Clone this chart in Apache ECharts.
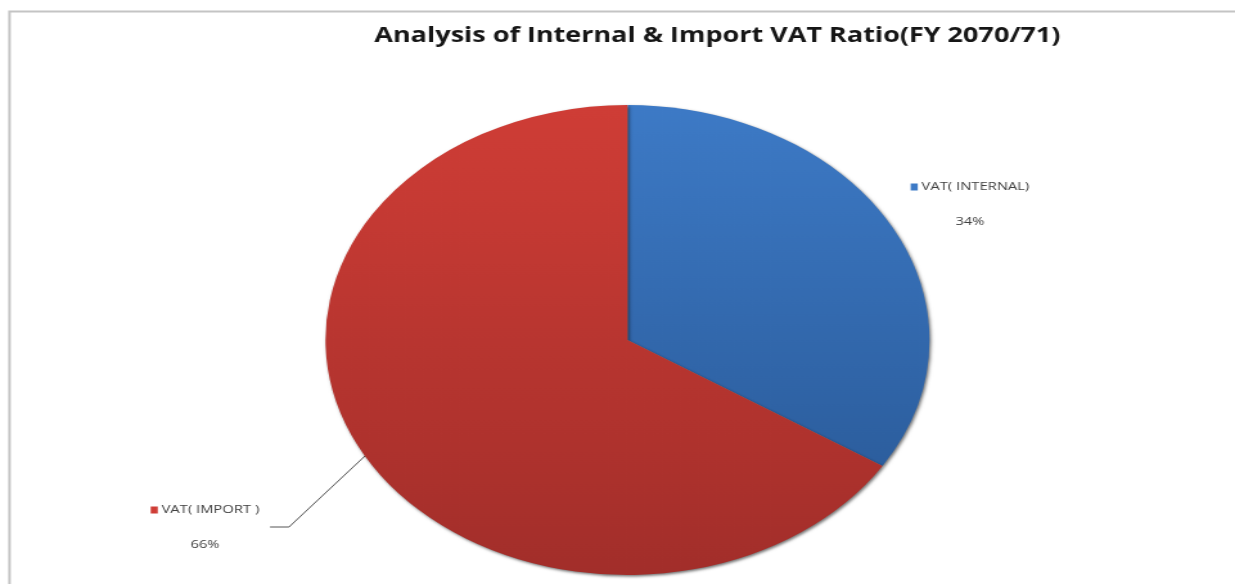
<!DOCTYPE html>
<html>
<head>
<meta charset="utf-8">
<script src="https://cdn.jsdelivr.net/npm/echarts@6/dist/echarts.min.js"></script>
<style>
  html, body { margin: 0; padding: 0; background: #fff; }
  #wrap { position: relative; width: 1235px; height: 584px; overflow: hidden; }
  #main { position: absolute; left: 0; top: 0; height: 584px; transform-origin: 0 0; }
</style>
</head>
<body>
<div id="wrap">
  <div id="main"></div>
</div>
<script>
const titleText = 'Analysis of Internal & Import VAT Ratio(FY 2070/71)';
const categories = ['VAT( INTERNAL)', 'VAT( IMPORT )'];
const values = [34, 66];
const colorsTop = ['#3d7ac6', '#cf3d36'];
const colorsBottom = ['#2c5e9e', '#a22e2a'];

// the source picture is stretched sideways, so the whole chart is drawn narrow and scaled in x
const rx = 302, ry = 235;
const k = rx / ry;
const X = v => v / k;   // page x -> chart x

const mainDiv = document.getElementById('main');
mainDiv.style.width = (1235 / k) + 'px';
mainDiv.style.transform = 'scaleX(' + k + ')';

const labelPos = [[970, 204.5], [205, 527.5]];
const linePts = [null, [[366, 455], [289, 527], [270, 527]]];

const myChart = echarts.init(mainDiv);
myChart.setOption({
  animation: false,
  backgroundColor: '#fff',
  title: {
    text: titleText,
    left: X(711),
    top: 21,
    textAlign: 'center',
    textStyle: {
      fontFamily: 'Open Sans',
      fontWeight: 'bold',
      fontSize: 21,
      color: '#161616'
    }
  },
  graphic: [{
    type: 'rect',
    shape: { x: X(9.5), y: 11.5, width: 1400, height: 700 },
    style: { fill: 'none', stroke: '#c4c4c4', lineWidth: 2 },
    silent: true
  }],
  series: [{
    type: 'pie',
    center: [X(627.5), 340],
    radius: ry,
    startAngle: 90,
    clockwise: true,
    silent: true,
    labelLine: {
      show: true,
      lineStyle: { color: '#555', width: 1 }
    },
    labelLayout: function (p) {
      const i = p.dataIndex;
      const out = { x: X(labelPos[i][0]), y: labelPos[i][1], align: 'center', verticalAlign: 'middle' };
      if (linePts[i]) out.labelLinePoints = linePts[i].map(pt => [X(pt[0]), pt[1]]);
      return out;
    },
    data: categories.map((name, i) => ({
      name: name,
      value: values[i],
      itemStyle: {
        color: new echarts.graphic.LinearGradient(0, 0, 0, 1, [
          { offset: 0, color: colorsTop[i] },
          { offset: 1, color: colorsBottom[i] }
        ]),
        borderWidth: 0,
        shadowBlur: 3,
        shadowOffsetX: 1.2,
        shadowOffsetY: 1.5,
        shadowColor: 'rgba(0,0,0,0.55)'
      },
      labelLine: { show: !!linePts[i] },
      label: {
        show: true,
        position: 'outside',
        formatter: '{sq|}{n| {b}}\n{p|{d}%}',
        rich: {
          sq: { width: 5.5, height: 7, backgroundColor: colorsTop[i], lineHeight: 35 },
          n: { fontFamily: 'Open Sans', fontSize: 11.5, color: '#404040', lineHeight: 35 },
          p: { fontFamily: 'Open Sans', fontSize: 11.5, color: '#404040', lineHeight: 35 }
        }
      }
    }))
  }]
});
</script>
</body>
</html>
